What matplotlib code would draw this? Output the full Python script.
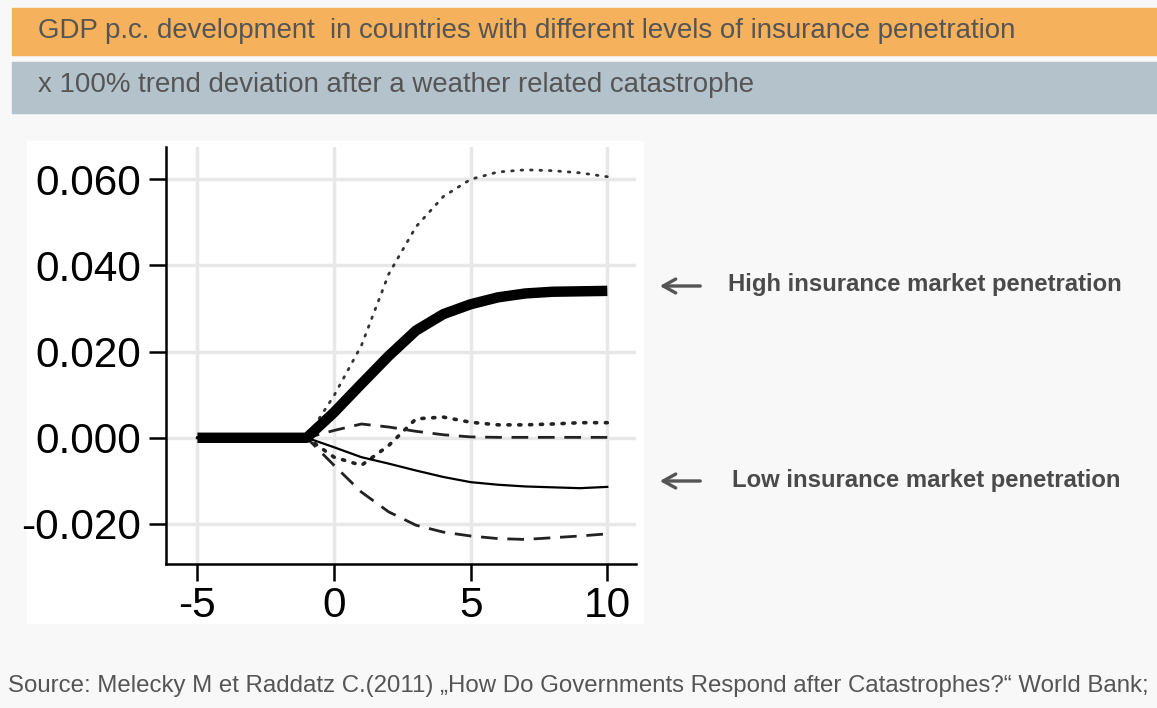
import matplotlib
matplotlib.use("Agg")
import matplotlib.pyplot as plt
from matplotlib.patches import Rectangle

plt.rcParams['font.family'] = ['Liberation Sans', 'DejaVu Sans']
plt.rcParams['axes.unicode_minus'] = False

# Data (years relative to the catastrophe)
years = list(range(-5, 11))
# high insurance penetration: mean and confidence band
high_mean = [0, 0, 0, 0, 0, 0.0059, 0.0125, 0.019, 0.0249, 0.0287, 0.031, 0.0326, 0.0335, 0.0339, 0.034, 0.0341]
high_upper = [0, 0, 0, 0, 0, 0.0098, 0.0214, 0.038, 0.049, 0.056, 0.060, 0.0617, 0.0622, 0.062, 0.0615, 0.0606]
high_lower = [0, 0, 0, 0, 0, -0.0045, -0.0064, -0.0018, 0.0044, 0.0048, 0.0036, 0.003, 0.003, 0.0032, 0.0035, 0.0035]
# low insurance penetration
low_mean = [0, 0, 0, 0, 0, -0.0022, -0.0045, -0.006, -0.0076, -0.0091, -0.0103, -0.0109, -0.0113, -0.0115, -0.0117, -0.0114]
low_upper = [0, 0, 0, 0, 0, 0.0017, 0.0032, 0.0025, 0.0015, 0.0007, 0.0002, 0.0001, 0.0001, 0.0001, 0.0001, 0.0001]
low_lower = [0, 0, 0, 0, 0, -0.0064, -0.0126, -0.0172, -0.0203, -0.0219, -0.0228, -0.0234, -0.0236, -0.0232, -0.0228, -0.0223]

x_ticks = [-5, 0, 5, 10]
y_ticks = [-0.02, 0.0, 0.02, 0.04, 0.06]
y_ticklabels = ["-0.020", "0.000", "0.020", "0.040", "0.060"]

title1 = "GDP p.c. development  in countries with different levels of insurance penetration"
title2 = "x 100% trend deviation after a weather related catastrophe"
label_high = "High insurance market penetration"
label_low = "Low insurance market penetration"
source = "Source: Melecky M et Raddatz C.(2011) \u201eHow Do Governments Respond after Catastrophes?\u201c World Bank;"

W, H = 1157, 708
fig = plt.figure(figsize=(W / 100, H / 100), dpi=100)
fig.patch.set_facecolor("#f8f8f8")

def px(x0, y0, w, h):
    # pixel box (top-left origin) -> figure fraction
    return (x0 / W, 1 - (y0 + h) / H, w / W, h / H)

# header bars
fig.add_artist(Rectangle(px(12, 8, 1145, 47)[:2], 1145 / W, 47 / H,
                         transform=fig.transFigure, color="#f6b15c", zorder=0))
fig.add_artist(Rectangle(px(12, 62, 1145, 51)[:2], 1145 / W, 51 / H,
                         transform=fig.transFigure, color="#b4c2cb", zorder=0))
fig.text(38 / W, 1 - 31 / H, title1, fontsize=19.9, color="#555555", va="center")
fig.text(38 / W, 1 - 85 / H, title2, fontsize=19.9, color="#555555", va="center")

# white panel behind the chart
fig.add_artist(Rectangle(px(27, 141, 616, 482)[:2], 616 / W, 482 / H,
                         transform=fig.transFigure, color="white", zorder=0))

ax = fig.add_axes([166 / W, 1 - 564 / H, (636 - 166) / W, (564 - 147) / H])
ax.set_facecolor("white")

ax.plot(years, high_upper, color="#333333", lw=2.0, linestyle=(0, (0.6, 2.8)), dash_capstyle="round")
ax.plot(years, high_lower, color="#222222", lw=2.6, linestyle=(0, (0.6, 2.4)), dash_capstyle="round")
ax.plot(years, low_upper, color="#222222", lw=2.0, linestyle=(0, (6, 3.5)))
ax.plot(years, low_lower, color="#222222", lw=2.0, linestyle=(0, (6, 3.5)))
ax.plot(years, low_mean, color="black", lw=1.6)
ax.plot(years, high_mean, color="black", lw=7.5, solid_capstyle="butt", solid_joinstyle="round")

ax.set_xlim(-6.15, 11.05)
ax.set_ylim(-0.0293, 0.0675)
ax.set_xticks(x_ticks)
ax.set_yticks(y_ticks)
ax.set_yticklabels(y_ticklabels)
ax.grid(True, color="#e8e8e8", lw=2.5)
ax.set_axisbelow(True)
for s in ["top", "right"]:
    ax.spines[s].set_visible(False)
for s in ["left", "bottom"]:
    ax.spines[s].set_linewidth(1.8)
ax.tick_params(length=12, width=1.8, labelsize=30.5, colors="black")
ax.tick_params(axis="y", pad=6)
ax.tick_params(axis="x", pad=4)

# annotations with arrows
for ytxt in [286, 481]:
    fig.add_artist(plt.Annotation("", xy=(657, H - ytxt), xytext=(703, H - ytxt),
                                  xycoords="figure pixels", textcoords="figure pixels",
                                  arrowprops=dict(arrowstyle="->,head_length=0.9,head_width=0.5",
                                                  color="#555555", lw=2.4)))
fig.text(728 / W, 1 - 285 / H, label_high, fontsize=17.2, fontweight="bold",
         color="#4a4a4a", va="center")
fig.text(732 / W, 1 - 481 / H, label_low, fontsize=17.2, fontweight="bold",
         color="#4a4a4a", va="center")

fig.text(8 / W, 1 - 686 / H, source, fontsize=17.3, color="#555555", va="center")

fig.savefig("out.png", dpi=100, facecolor=fig.get_facecolor())
